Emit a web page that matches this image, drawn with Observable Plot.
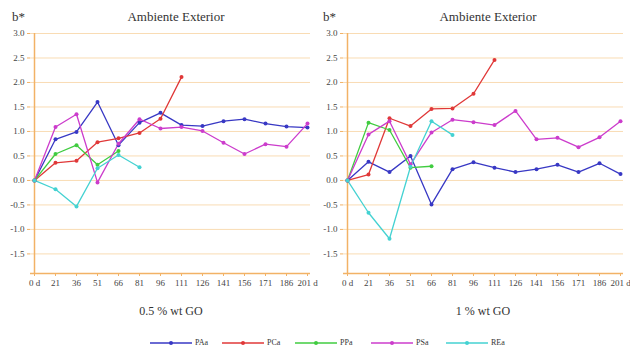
<!DOCTYPE html>
<html>
<head>
<meta charset="utf-8">
<script src="https://cdn.jsdelivr.net/npm/d3@7"></script>
<script src="https://cdn.jsdelivr.net/npm/@observablehq/plot@0.6"></script>
<style>
  html, body { margin: 0; padding: 0; background: #fff; overflow: hidden; }
  #wrap { position: relative; width: 630px; height: 351px; font-family: "Liberation Serif", "Times New Roman", serif; color: #333; }
  .abs { position: absolute; white-space: nowrap; }
  .panel { position: absolute; top: 0; }
  .ttl { font-size: 13px; line-height: 13px; }
  .sub { font-size: 12px; line-height: 12px; }
  .leg { position: absolute; top: 337px; display: flex; align-items: center; font-size: 8px; line-height: 12px; }
  .leg svg { display: block; margin-right: 3px; }
  .panel svg text { font-family: "Liberation Serif", "Times New Roman", serif; }
</style>
</head>
<body>
<div id="wrap">
  <div class="abs ttl" style="left:12px; top:10px;">b*</div>
  <div class="abs ttl" style="left:176px; top:10px; transform:translateX(-50%);">Ambiente Exterior</div>
  <div class="abs ttl" style="left:323px; top:10px;">b*</div>
  <div class="abs ttl" style="left:488px; top:10px; transform:translateX(-50%);">Ambiente Exterior</div>
  <div id="p1" class="panel" style="left:0px;"></div>
  <div id="p2" class="panel" style="left:320px;"></div>
  <div class="abs sub" style="left:171px; top:305px; transform:translateX(-50%);">0.5 % wt GO</div>
  <div class="abs sub" style="left:483px; top:305px; transform:translateX(-50%);">1 % wt GO</div>
  <div id="legend"></div>
</div>
<script>
// ---- data ----
const days = ["0 d","21","36","51","66","81","96","111","126","141","156","171","186","201 d"];
const seriesNames = ["PAa","PCa","PPa","PSa","REa"];
const seriesColors = ["#3838c4","#e03838","#40cc40","#cc3ccc","#44d2d2"];
const yTicks = [-1.5,-1.0,-0.5,0.0,0.5,1.0,1.5,2.0,2.5,3.0];

// 0.5 % wt GO
const PAa_05 = [0,0.84,0.99,1.60,0.72,1.18,1.38,1.13,1.11,1.21,1.25,1.16,1.10,1.08];
const PCa_05 = [0,0.36,0.40,0.78,0.86,0.97,1.26,2.11];
const PPa_05 = [0,0.54,0.72,0.32,0.60];
const PSa_05 = [0,1.09,1.35,-0.04,0.75,1.25,1.06,1.09,1.01,0.77,0.54,0.74,0.69,1.16];
const REa_05 = [0,-0.18,-0.53,0.25,0.52,0.27];

// 1 % wt GO
const PAa_1 = [0,0.38,0.17,0.50,-0.49,0.23,0.37,0.26,0.17,0.23,0.32,0.17,0.35,0.13];
const PCa_1 = [0,0.12,1.27,1.11,1.46,1.47,1.77,2.46];
const PPa_1 = [0,1.18,1.03,0.26,0.29];
const PSa_1 = [0,0.94,1.21,0.33,0.98,1.24,1.19,1.13,1.42,0.84,0.87,0.68,0.88,1.21];
const REa_1 = [0,-0.66,-1.19,0.28,1.21,0.93];

function toRows(lists) {
  const rows = [];
  lists.forEach((vals, si) => vals.forEach((v, i) => rows.push({s: seriesNames[si], day: days[i], v})));
  return rows;
}

const axisColor = "#f2b266";
const gridColor = "#f9dcb4";

function panel(rows, opts) {
  return Plot.plot({
    width: opts.width,
    height: 293,
    marginTop: 33,
    marginBottom: 20,
    marginLeft: opts.ml,
    marginRight: opts.mr,
    style: {fontFamily: "'Liberation Serif', 'Times New Roman', serif", fontSize: "9px", color: "#444", overflow: "visible", background: "transparent"},
    x: {type: "point", domain: days, padding: 0, label: null},
    y: {domain: [-1.9, 3.0], label: null},
    color: {domain: seriesNames, range: seriesColors},
    marks: [
      Plot.ruleY(yTicks, {stroke: gridColor, strokeWidth: 1}),
      Plot.axisY(yTicks, {tickFormat: d => d.toFixed(1), tickSize: 3, tickPadding: 3, stroke: axisColor, label: null}),
      Plot.axisX({tickSize: 3, tickPadding: 3, stroke: axisColor, label: null}),
      Plot.ruleX([days[0]], {stroke: axisColor, strokeWidth: 1.5}),
      Plot.ruleY([-1.9], {stroke: axisColor, strokeWidth: 1.5}),
      Plot.line(rows, {x: "day", y: "v", z: "s", stroke: "s", strokeWidth: 1.3}),
      Plot.dot(rows, {x: "day", y: "v", fill: "s", r: 2})
    ]
  });
}

document.getElementById("p1").append(panel(toRows([PAa_05, PCa_05, PPa_05, PSa_05, REa_05]), {width: 320, ml: 30, mr: 10}));
document.getElementById("p2").append(panel(toRows([PAa_1, PCa_1, PPa_1, PSa_1, REa_1]), {width: 310, ml: 23, mr: 7}));

// legend
const legLeft = [150, 222, 295, 371, 446];
const legend = document.getElementById("legend");
seriesNames.forEach((name, i) => {
  const item = document.createElement("div");
  item.className = "leg";
  item.style.left = legLeft[i] + "px";
  item.innerHTML = `<svg width="42" height="8"><line x1="0" y1="4" x2="42" y2="4" stroke="${seriesColors[i]}" stroke-width="1.3"/><circle cx="21" cy="4" r="2" fill="${seriesColors[i]}"/></svg><span>${name}</span>`;
  legend.append(item);
});
</script>
</body>
</html>
